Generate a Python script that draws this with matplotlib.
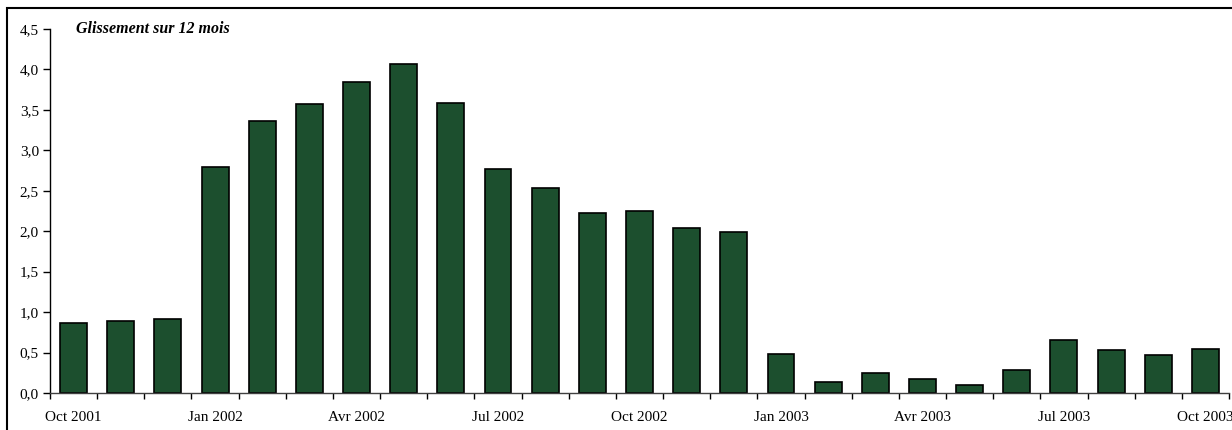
import numpy as np
import matplotlib
matplotlib.use('Agg')
import matplotlib.pyplot as plt
from matplotlib.patches import Rectangle

# monthly values, Oct 2001 -> Oct 2003
months = ['Oct 2001', 'Nov 2001', 'Dec 2001', 'Jan 2002', 'Fev 2002', 'Mar 2002',
          'Avr 2002', 'Mai 2002', 'Jun 2002', 'Jul 2002', 'Aou 2002', 'Sep 2002',
          'Oct 2002', 'Nov 2002', 'Dec 2002', 'Jan 2003', 'Fev 2003', 'Mar 2003',
          'Avr 2003', 'Mai 2003', 'Jun 2003', 'Jul 2003', 'Aou 2003', 'Sep 2003',
          'Oct 2003']
values = [0.86, 0.89, 0.92, 2.79, 3.36, 3.57, 3.85, 4.07, 3.58, 2.77, 2.54, 2.23,
          2.25, 2.04, 1.99, 0.48, 0.14, 0.25, 0.17, 0.10, 0.29, 0.65, 0.53, 0.47,
          0.54]
shown_labels = ['Oct 2001', 'Jan 2002', 'Avr 2002', 'Jul 2002', 'Oct 2002',
                'Jan 2003', 'Avr 2003', 'Jul 2003', 'Oct 2003']
y_ticks = [0.0, 0.5, 1.0, 1.5, 2.0, 2.5, 3.0, 3.5, 4.0, 4.5]

plt.rcParams['font.family'] = ['Liberation Serif', 'DejaVu Serif']

W, H = 1232, 430
fig = plt.figure(figsize=(W / 100, H / 100), dpi=100)

# outer frame (right and bottom edges fall outside the picture)
fig.patches.append(Rectangle((7 / W, -0.1), 1.2, (H - 8) / H + 0.1,
                             transform=fig.transFigure, fill=False,
                             edgecolor='black', linewidth=1.5))

ax = fig.add_axes([50 / W, 37 / H, 1179 / W, 364 / H])
x = np.arange(len(months))
ax.bar(x, values, width=0.57, color='#1c4f2e', edgecolor='black', linewidth=1.2)

ax.set_xlim(-0.5, len(months) - 0.5)
ax.set_ylim(0, 4.5)
ax.set_yticks(y_ticks)
ax.set_yticklabels([f'{v:.1f}'.replace('.', ',') for v in y_ticks], fontsize=11)

# small ticks between bars, labels every quarter under the bar
ax.set_xticks(np.arange(-0.5, len(months), 1.0))
ax.set_xticklabels([])
ax.set_xticks([months.index(m) for m in shown_labels], minor=True)
ax.set_xticklabels(shown_labels, minor=True, fontsize=11)
ax.tick_params(axis='x', which='major', direction='out', length=4, width=1)
ax.tick_params(axis='x', which='minor', length=0, pad=13)
ax.tick_params(axis='y', direction='out', length=5, width=1, pad=3)

for s in ['top', 'right']:
    ax.spines[s].set_visible(False)
ax.spines['left'].set_linewidth(1)
ax.spines['bottom'].set_linewidth(1)
ax.spines['bottom'].set_color('#404040')

ax.text(0.022, 1.0, 'Glissement sur 12 mois', transform=ax.transAxes,
        fontsize=11.5, fontweight='bold', fontstyle='italic', va='center', ha='left')

fig.savefig('out.png', dpi=100)
